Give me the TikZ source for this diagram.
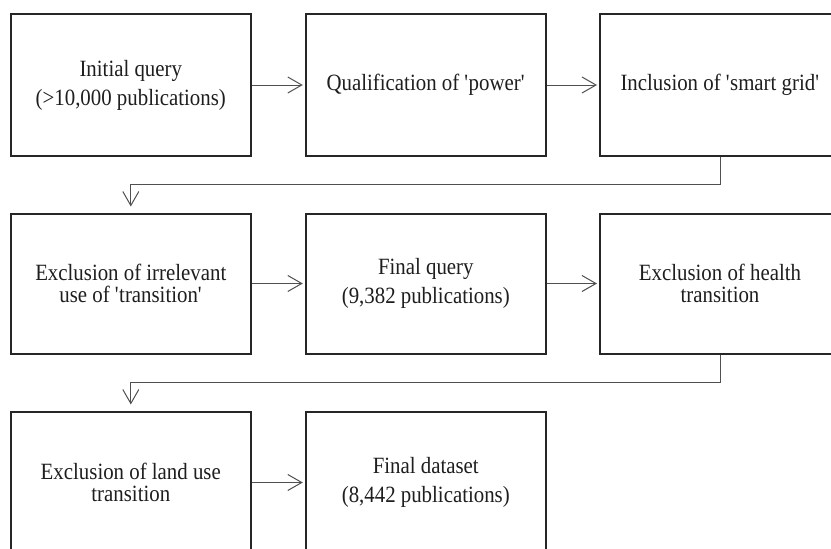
\documentclass[tikz,border=0pt]{standalone}
\usepackage{fontspec}
\setmainfont[FakeStretch=0.895]{Liberation Serif}
\usetikzlibrary{arrows.meta}
\definecolor{boxline}{HTML}{262626}
\definecolor{connline}{HTML}{505050}
\definecolor{txt}{HTML}{1E1E1E}
\newcommand{\sq}{\textquotesingle}
\tikzset{
  stepbox/.style={draw=boxline, line width=2pt, rectangle, minimum width=240pt,
    minimum height=142pt, align=center, text=txt, inner sep=0pt},
  widelead/.style={font=\fontsize{23.3}{28.8}\selectfont},
  narrowlead/.style={font=\fontsize{23.3}{21.5}\selectfont},
  conn/.style={draw=connline, line width=1pt,
    -{Straight Barb[length=14pt,width=16pt,line width=1pt]}},
  hconn/.style={conn, shorten >=2pt},
  vconn/.style={conn, shorten >=6pt}
}
\begin{document}
\begin{tikzpicture}[x=1pt,y=-1pt]
\clip (0,0) rectangle (831,549);
\fill[white] (0,0) rectangle (831,549);
% row 1
\node[stepbox, widelead] (a) at (130.8,85) {Initial query\\(>10,000 publications)};
\node[stepbox, widelead] (b) at (425.8,85) {Qualification of \sq power\sq};
\node[stepbox, widelead] (c) at (720,85) {Inclusion of \sq smart grid\sq};
% row 2
\node[stepbox, narrowlead, minimum height=140pt] (d) at (130.8,283.5) {Exclusion of irrelevant\\use of \sq transition\sq};
\node[stepbox, widelead, minimum height=140pt] (e) at (425.8,283.5) {Final query\\(9,382 publications)};
\node[stepbox, narrowlead, minimum height=140pt] (f) at (720,283.5) {Exclusion of health\\transition};
% row 3
\node[stepbox, narrowlead] (g) at (130.8,482.5) {Exclusion of land use\\transition};
\node[stepbox, widelead] (h) at (425.8,482.5) {Final dataset\\(8,442 publications)};
% connectors
\draw[hconn] (a.east) -- (b.west);
\draw[hconn] (b.east) -- (c.west);
\draw[vconn] (c.south) -- ++(0,27.8) -| (d.north);
\draw[hconn] (d.east) -- (e.west);
\draw[hconn] (e.east) -- (f.west);
\draw[vconn] (f.south) -- ++(0,28) -| (g.north);
\draw[hconn] (g.east) -- (h.west);
\end{tikzpicture}
\end{document}
